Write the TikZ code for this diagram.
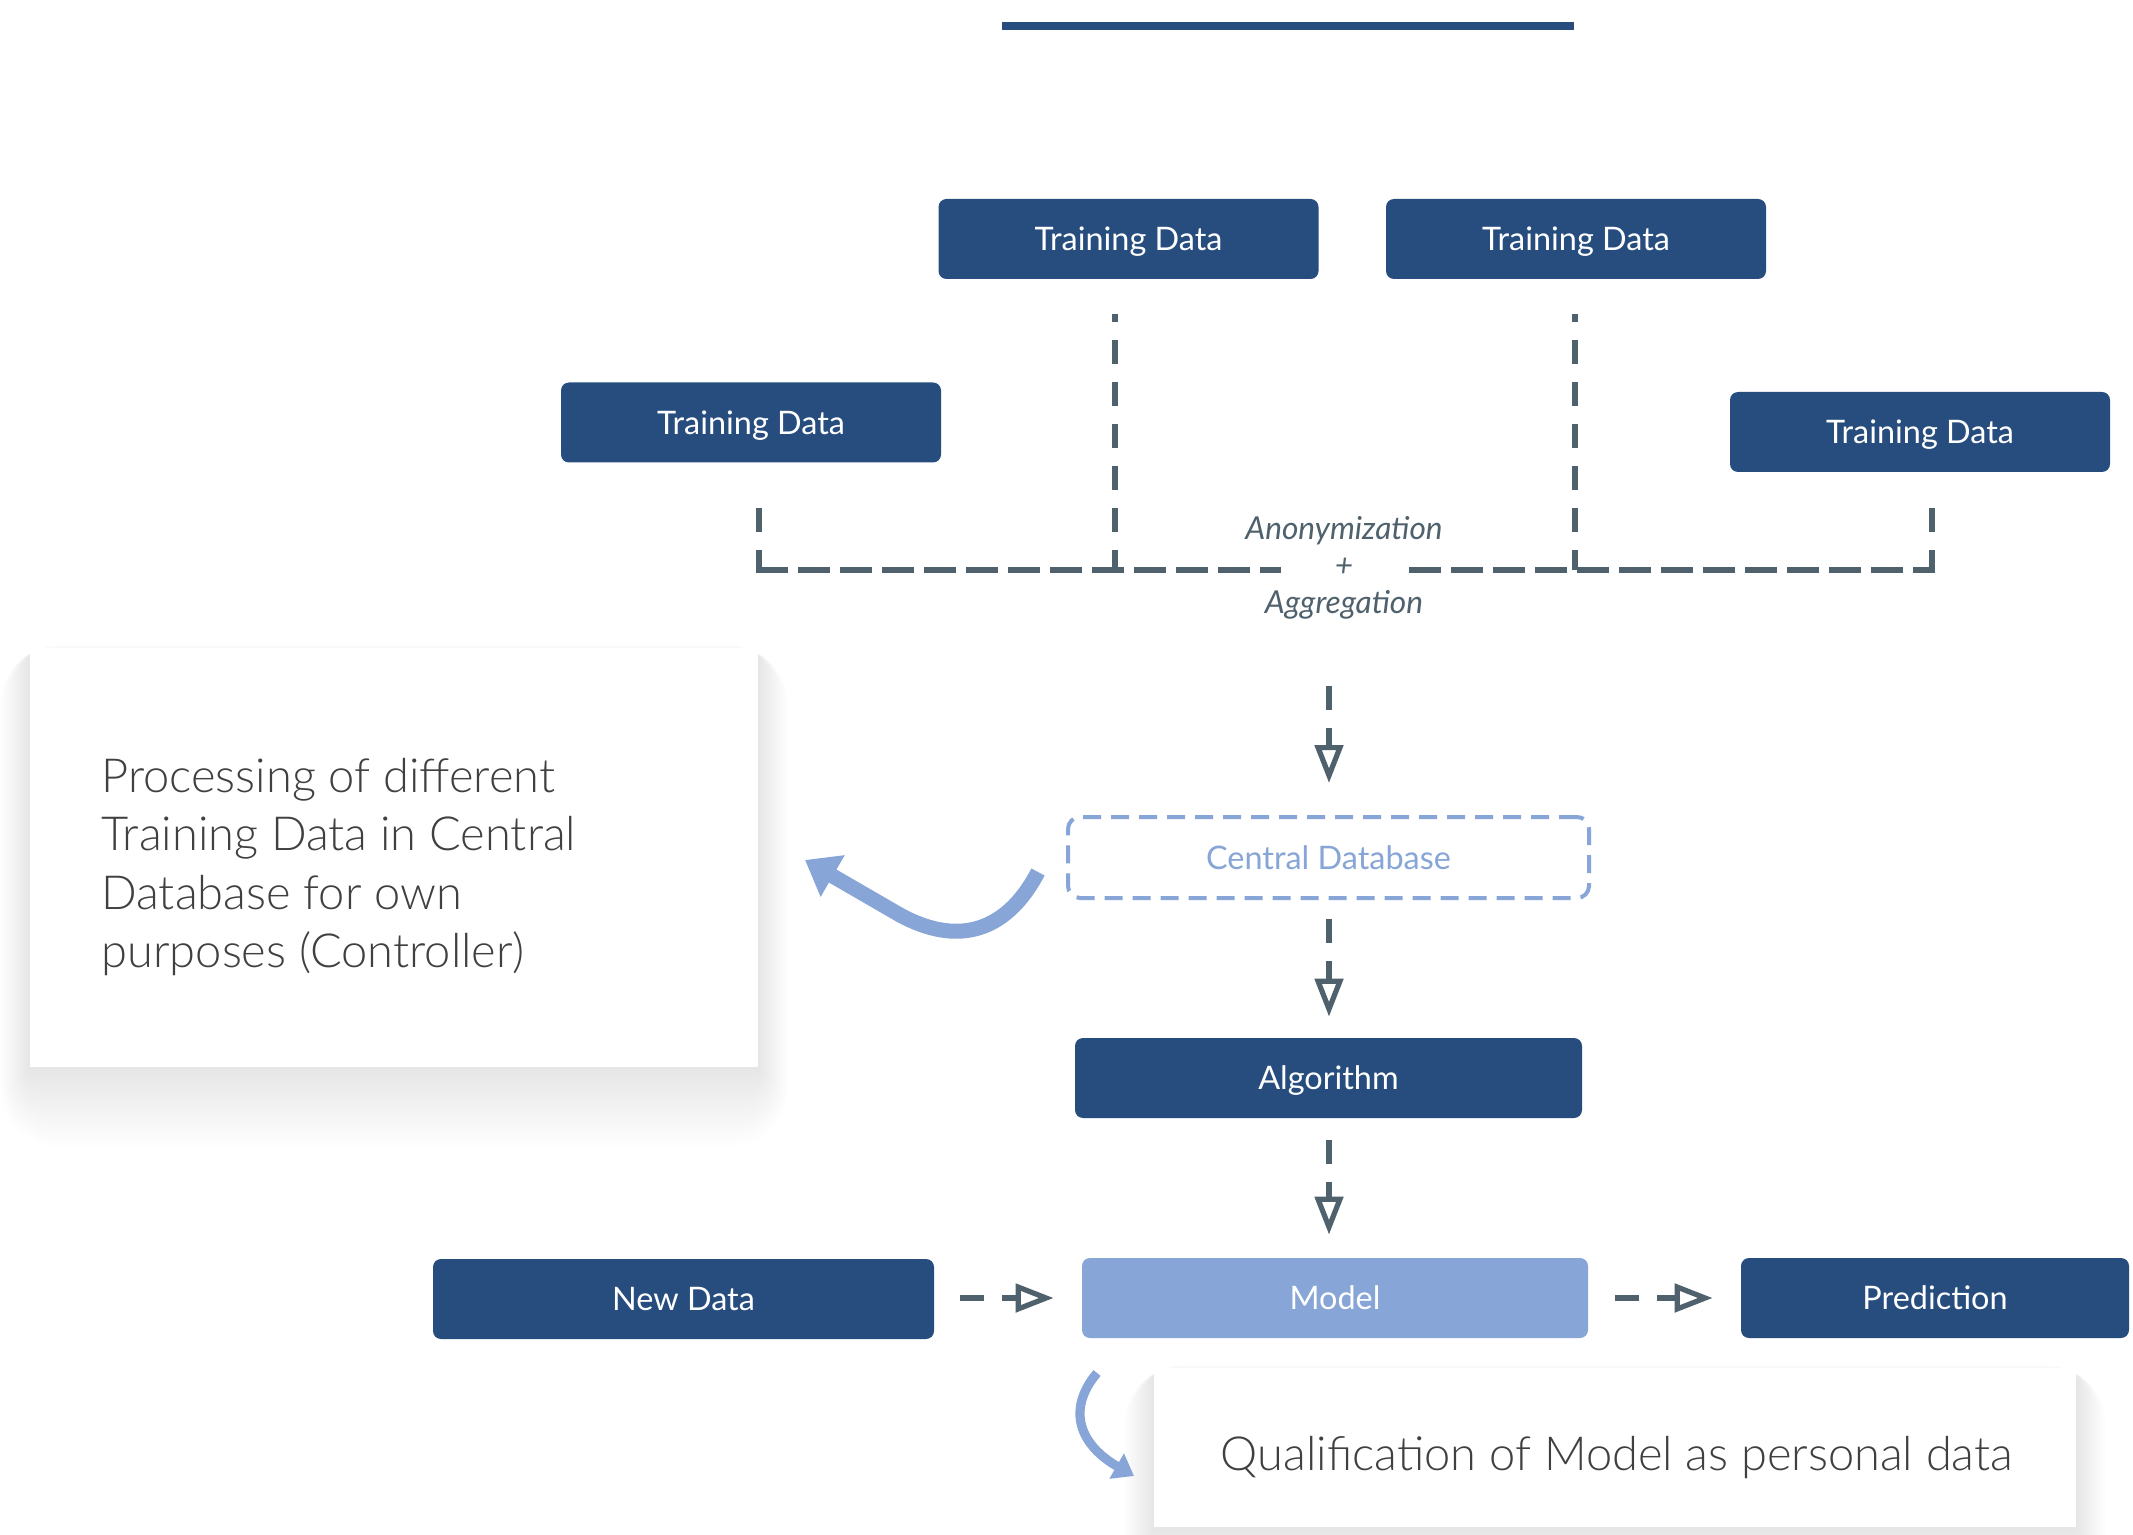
\documentclass[tikz,border=0pt]{standalone}
\usepackage{fontspec}
\setmainfont{Lato}
\newfontfamily\lightfont{Lato Light}
\usetikzlibrary{arrows.meta,calc}
\definecolor{navy}{HTML}{274D7E}
\definecolor{lblue}{HTML}{87A5D6}
\definecolor{dgray}{HTML}{4F616C}
\definecolor{txtgray}{HTML}{404040}
\definecolor{shadowc}{HTML}{7E8EAA}
\begin{document}
\begin{tikzpicture}[x=0.5pt,y=-0.5pt,
  boxtext/.style={font=\fontsize{16.2}{19}\selectfont, text height=11.6pt, text depth=0pt, inner sep=0pt, minimum height=40pt},
  darkbox/.style={boxtext, fill=navy, rounded corners=4pt, text=white},
  lightbox/.style={boxtext, fill=lblue, rounded corners=4pt, text=white},
  dbbox/.style={boxtext, draw=lblue, line width=2pt, dash pattern=on 9pt off 5pt, rounded corners=6pt, text=lblue},
  feed/.style={draw=dgray, line width=2.8pt, dash pattern=on 12pt off 9pt},
  collect/.style={draw=dgray, line width=2.8pt, dash pattern=on 16pt off 5pt},
  flow/.style={draw=dgray, line width=2.6pt, dash pattern=on 12pt off 9pt,
    -{Triangle[length=19pt, width=14pt, fill=white]}},
  lighttext/.style={font=\lightfont\fontsize{23.5}{29.2}\selectfont, text=txtgray, inner sep=0pt},
  bluearrow/.style={draw=lblue, line cap=butt}
]
\useasboundingbox (0,0) rectangle (2133,1535);
\fill[white] (0,0) rectangle (2133,1535);

% top bar
\node[fill=navy, minimum width=286pt, minimum height=4pt, inner sep=0pt] (bar) at (1288,26) {};

% training data boxes
\node[darkbox, minimum width=190pt] (td1) at (1128.5,239) {Training Data};
\node[darkbox, minimum width=190pt] (td2) at (1576,239) {Training Data};
\node[darkbox, minimum width=190pt] (td3) at (751,422.5) {Training Data};
\node[darkbox, minimum width=190pt] (td4) at (1920,432) {Training Data};

% anonymization label
\node[font=\itshape\fontsize{15.8}{18.5}\selectfont, text=dgray, align=center, inner sep=0pt, anchor=north] (agg) at (1344,516) {Anonymization\\+\\Aggregation};

% junction coordinates
\coordinate (j3) at (759,570);
\coordinate (j1) at (1115,570);
\coordinate (j2) at (1575,570);
\coordinate (j4) at (1932,570);
\coordinate (gl) at (1281,570);
\coordinate (gr) at (1409,570);

\draw[feed, dash phase=8pt, shorten <=17.5pt] (td1.south -| j1) -- (j1);
\draw[feed, dash phase=8pt, shorten <=17.5pt] (td2.south -| j2) -- (j2);
\draw[feed, shorten <=22.5pt] (td3.south -| j3) -- ([yshift=-1.5pt]j3);
\draw[feed, shorten <=18pt] (td4.south -| j4) -- ([yshift=-1.5pt]j4);
\draw[collect] ([xshift=-1.4pt]j3) -- (gl);
\draw[collect] (gr) -- ([xshift=1.4pt]j4);

% central database and chain
\node[dbbox, minimum width=260.5pt, minimum height=40.5pt] (cdb) at (1328.5,857.5) {Central Database};
\node[darkbox, minimum width=253.5pt] (alg) at (1328.5,1078) {Algorithm};
\node[lightbox, minimum width=253pt] (model) at (1335,1298) {Model};
\node[darkbox, minimum width=250.5pt] (newd) at (683.5,1299) {New Data};
\node[darkbox, minimum width=194pt] (pred) at (1935,1298) {Prediction};

\coordinate (a0) at (1329,686);
\draw[flow, shorten >=16pt] (a0) -- (a0 |- cdb.north);
\draw[flow, shorten <=9.5pt, shorten >=10.5pt] (cdb.south -| a0) -- (a0 |- alg.north);
\draw[flow, shorten <=11pt, shorten >=11.5pt] (alg.south -| a0) -- (a0 |- model.north);
\draw[flow, shorten <=13pt, shorten >=14pt] (newd.east |- model.west) -- (model.west);
\draw[flow, shorten <=13.5pt, shorten >=14pt] (model.east) -- (pred.west);

% left explanatory box with soft shadow
\foreach \i in {1,...,25}{
  \pgfmathsetmacro\rr{\i*1.2}
  \fill[shadowc, opacity=0.0045, rounded corners=\rr pt] (30-\i*1.2,655-\i*0.4) rectangle (758+\i*1.2,1067+\i*3.2);
}
\node[fill=white, minimum width=364pt, minimum height=209.5pt, inner sep=0pt] (procbox) at (394,857.5) {};
\node[lighttext, align=left, anchor=north west] (proctext) at (101,758) {Processing of different\\Training Data in Central\\Database for own\\purposes (Controller)};

% qualification box with soft shadow
\foreach \i in {1,...,25}{
  \pgfmathsetmacro\rr{\i*1.2}
  \fill[shadowc, opacity=0.0045, rounded corners=\rr pt] (1154-\i*1.2,1375-\i*0.4) rectangle (2076+\i*1.2,1527+\i*3.2);
}
\node[fill=white, minimum width=461pt, minimum height=79.5pt, inner sep=0pt] (qualbox) at (1615,1447.5) {};
\node[lighttext, anchor=base] (qualtext) at (1617,1470) {Qualification of Model as personal data};

% blue curved arrows
\coordinate (la0) at (1038,872);
\coordinate (la1) at (900,915);
\coordinate (la2) at (805,860);
\draw[bluearrow, line width=7.5pt, -{Triangle[length=16pt, width=23pt]}] (la0) .. controls (1005,935) and (955,945) .. (la1) -- (la2);

\coordinate (qa0) at (1097,1373);
\coordinate (qa1) at (1134,1476);
\draw[bluearrow, line width=4.6pt, -{Triangle[length=10pt, width=14pt]}] (qa0) .. controls (1066,1410) and (1080,1445) .. (qa1);
\end{tikzpicture}
\end{document}
